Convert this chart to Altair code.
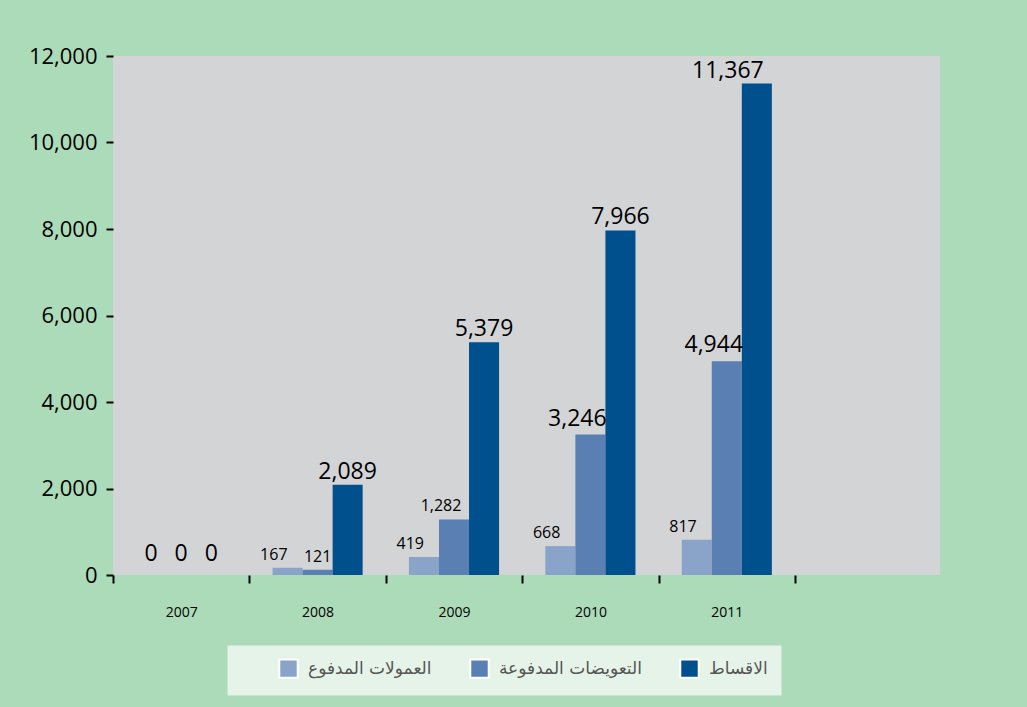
import altair as alt
import pandas as pd

years = ["2007", "2008", "2009", "2010", "2011"]
series_names = ["العمولات المدفوع", "التعويضات المدفوعة", "الاقساط"]
commissions = [0, 167, 419, 668, 817]
claims = [0, 121, 1282, 3246, 4944]
premiums = [0, 2089, 5379, 7966, 11367]
colors = ["#8aa4c9", "#5a7fb3", "#00508e"]
y_ticks = [0, 2000, 4000, 6000, 8000, 10000, 12000]

rows = []
for name, vals in zip(series_names, [commissions, claims, premiums]):
    for yr, v in zip(years, vals):
        rows.append({"year": yr, "series": name, "value": v})
df = pd.DataFrame(rows)

NUM_FONT = "Open Sans"
AR_FONT = "DejaVu Sans"

x_scale = alt.Scale(domain=years, range=[0, 682], paddingInner=0, paddingOuter=0)
y_scale = alt.Scale(domain=[0, 12000], nice=False)

x_enc = alt.X(
    "year:N",
    scale=x_scale,
    axis=alt.Axis(
        title=None, labelAngle=0, tickBand="extent", domain=False,
        ticks=True, tickSize=8, tickWidth=2, tickColor="black",
        labelFontSize=14, labelPadding=22, labelFont=NUM_FONT, labelColor="black",
    ),
)
xoff = alt.XOffset("series:N", sort=series_names,
                   scale=alt.Scale(domain=series_names, paddingOuter=0.77, paddingInner=0))
y_enc = alt.Y(
    "value:Q",
    scale=y_scale,
    axis=alt.Axis(
        title=None, values=y_ticks, format=",.0f", grid=False, domain=False,
        tickSize=7, tickWidth=2, tickColor="black",
        labelFontSize=22, labelPadding=9, labelFont=NUM_FONT, labelColor="black",
    ),
)

base = alt.Chart(df)

bars = base.mark_bar().encode(
    x=x_enc,
    xOffset=xoff,
    y=y_enc,
    color=alt.Color(
        "series:N",
        sort=series_names,
        scale=alt.Scale(domain=series_names, range=colors),
        legend=alt.Legend(
            title="\u00a0", titleOrient="left", titlePadding=38, titleFontSize=16,
            orient="none", legendX=114, legendY=589, direction="horizontal",
            symbolType="square", symbolSize=340, symbolStrokeColor="white",
            symbolStrokeWidth=2, symbolOpacity=1,
            labelFont=AR_FONT, labelFontSize=17, labelColor="#555555",
            columnPadding=34, labelOffset=9, padding=13,
            fillColor="rgba(238,247,240,0.85)", strokeColor="rgba(0,0,0,0)",
        ),
    ),
)

size_cond = alt.condition("datum.value == 0 || datum.value >= 2000",
                          alt.value(23), alt.value(16))


def labels(filter_expr, align, dx, dy):
    return base.transform_filter(filter_expr).mark_text(
        align=align, baseline="alphabetic", dx=dx, dy=dy,
        font=NUM_FONT, color="black",
    ).encode(
        x=alt.X("year:N", scale=x_scale),
        xOffset=xoff,
        y=alt.Y("value:Q", scale=y_scale),
        text=alt.Text("value:Q", format=","),
        size=size_cond,
    )


s0, s1, s2 = series_names
layers = [
    bars,
    labels("datum.value == 0", "center", 0, -14),
    labels(f"datum.value > 0 && datum.series == '{s0}'", "right", 0, -8),
    labels(f"datum.value > 0 && datum.value < 1000 && datum.series == '{s1}'", "center", 0, -8),
    labels(f"datum.value >= 1000 && datum.series == '{s1}'", "center", -13, -9),
    labels(f"datum.value > 0 && datum.value < 10000 && datum.series == '{s2}'", "center", 0, -6),
    labels(f"datum.value >= 10000 && datum.series == '{s2}'", "center", -29, -5),
]

chart = alt.layer(*layers).properties(
    width=827, height=519,
    autosize="none",
    padding={"left": 113, "top": 56, "right": 87, "bottom": 132},
    background="#acdbb9",
).configure_view(fill="#d3d4d6", strokeWidth=0)

chart.save("out.html", embed_options={"renderer": "svg", "actions": False})
